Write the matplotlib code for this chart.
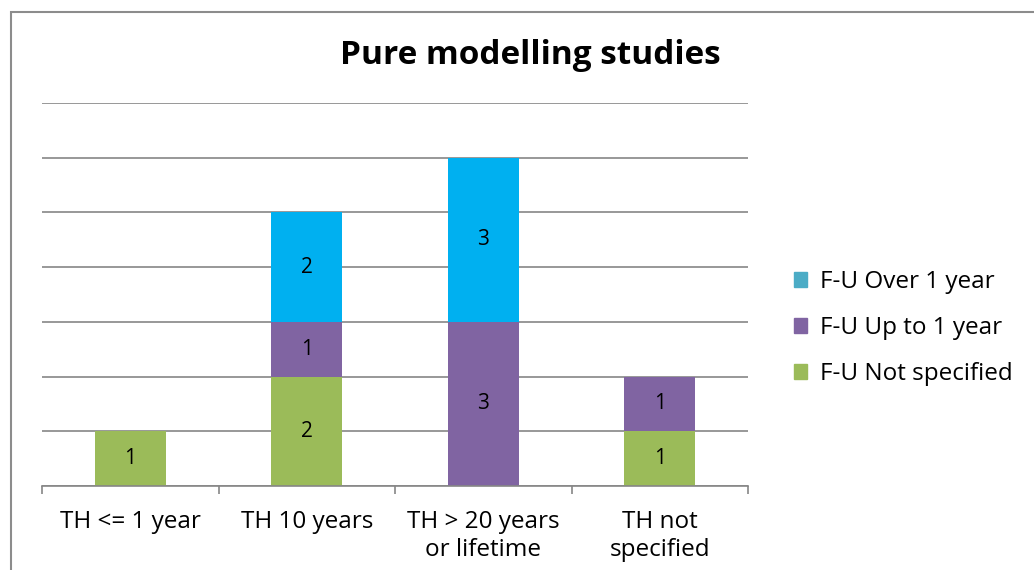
import numpy as np
import matplotlib.pyplot as plt
from matplotlib.patches import Rectangle, Patch

plt.rcParams['font.family'] = ['Open Sans', 'DejaVu Sans']

categories = ['TH <= 1 year', 'TH 10 years', 'TH > 20 years\nor lifetime', 'TH not\nspecified']
not_specified = [1, 2, 0, 1]
up_to_1 = [0, 1, 3, 1]
over_1 = [0, 2, 3, 0]

series = [('F-U Not specified', not_specified, '#9BBB59'),
          ('F-U Up to 1 year', up_to_1, '#8064A2'),
          ('F-U Over 1 year', over_1, '#00B0F0')]
legend_colors = {'F-U Over 1 year': '#4BACC6',
                 'F-U Up to 1 year': '#8064A2',
                 'F-U Not specified': '#9BBB59'}

fig = plt.figure(figsize=(10.34, 5.7), dpi=100)
ax = fig.add_axes([42/1034, 84/570, 706/1034, 383/570])

x = np.arange(len(categories))
bottom = np.zeros(len(categories))
for name, vals, col in series:
    vals = np.array(vals)
    ax.bar(x, vals, 0.4, bottom=bottom, color=col, zorder=2)
    for xi, v, b in zip(x, vals, bottom):
        if v > 0:
            ax.text(xi, b + v/2, str(v), ha='center', va='center', fontsize=15, color='black', zorder=3)
    bottom += vals

ax.set_xlim(-0.5, len(categories) - 0.5)
ax.set_ylim(0, 7)
ax.set_yticks(range(0, 8))
ax.yaxis.grid(True, color='#868686', linewidth=1.2, zorder=0)
ax.tick_params(axis='y', length=0, labelleft=False)
ax.set_xticks(np.arange(-0.5, len(categories)), minor=False)
ax.set_xticklabels([''] * (len(categories) + 1))
ax.set_xticks(x, minor=True)
ax.set_xticklabels(categories, minor=True, fontsize=17.5, linespacing=1.25)
ax.tick_params(axis='x', which='major', length=6, color='#868686', width=1.2, direction='out')
ax.tick_params(axis='x', which='minor', length=0, pad=17)
for s in ['top', 'right', 'left']:
    ax.spines[s].set_visible(False)
ax.spines['bottom'].set_color('#868686')
ax.spines['bottom'].set_linewidth(1.2)

fig.text(530/1034, 1 - 56/570, 'Pure modelling studies', ha='center', va='center',
         fontsize=24, fontweight='bold')

handles = [Patch(color=legend_colors[n]) for n in ['F-U Over 1 year', 'F-U Up to 1 year', 'F-U Not specified']]
fig.legend(handles, ['F-U Over 1 year', 'F-U Up to 1 year', 'F-U Not specified'],
           loc='center left', bbox_to_anchor=(794/1034, 1 - 328/570), frameon=False,
           fontsize=17.5, handlelength=0.55, handleheight=0.55, handletextpad=0.5, labelspacing=0.9,
           borderaxespad=0, borderpad=0)

fig.patches.append(Rectangle((11/1034, -0.1), 1.2, 1 - 12/570 + 0.1, transform=fig.transFigure,
                             fill=False, edgecolor='#8c8c8c', linewidth=1.5))

fig.savefig('out.png', dpi=100)
